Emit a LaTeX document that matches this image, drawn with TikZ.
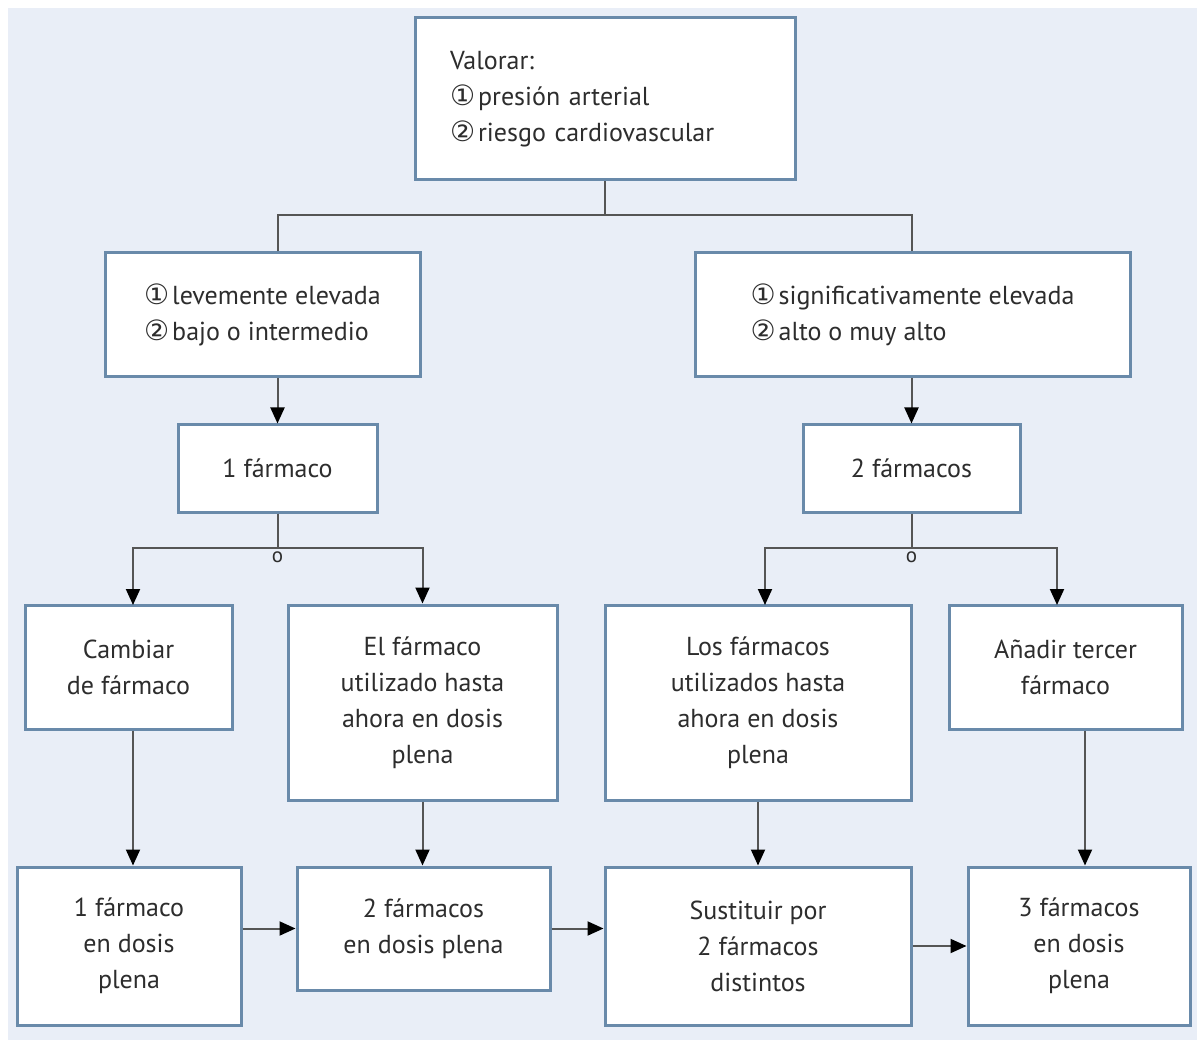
\documentclass[tikz,border=0pt]{standalone}
\usepackage{fontspec}
\setmainfont{PT Sans}
\newfontfamily\circfont{DejaVu Sans}
\usepackage{tikz}
\usetikzlibrary{arrows.meta,positioning}

\definecolor{bgblue}{RGB}{233,238,247}
\definecolor{boxblue}{RGB}{105,138,170}
\definecolor{linegray}{RGB}{85,85,85}
\definecolor{txtgray}{RGB}{45,45,45}
\newcommand{\cuno}{{\circfont\fontsize{28}{36}\selectfont ①}\hspace{3pt}}
\newcommand{\cdos}{{\circfont\fontsize{28}{36}\selectfont ②}\hspace{3pt}}

\tikzset{
	box/.style={draw=boxblue, line width=3pt, fill=white, align=center, text=txtgray, inner sep=0pt,
		font=\fontsize{26}{36}\selectfont},
	line/.style={draw=linegray, line width=2pt},
	arr/.style={line, -{Triangle[length=16pt,width=14pt,color=black]}},
	olabel/.style={text=txtgray, inner sep=1pt, font=\fontsize{21}{24}\selectfont},
}

\begin{document}
\begin{tikzpicture}[x=1pt, y=-1pt]
	\useasboundingbox (0,0) rectangle (1197,1064);
	\fill[bgblue] (8,8) rectangle (1197,1040);
	% top and second level
	\node[box, align=left, text width=310pt, inner xsep=35pt, minimum height=162pt] (valorar) at (605,99)
		{Valorar:\\\cuno presión arterial\\\cdos riesgo cardiovascular};
	\node[box, align=left, minimum width=315pt, minimum height=124pt] (leve) at (262.5,315)
		{\cuno levemente elevada\\\cdos bajo o intermedio};
	\node[box, align=left, minimum width=435pt, minimum height=124pt] (signif) at (912.5,315)
		{\cuno significativamente elevada\\\cdos alto o muy alto};
	\node[box, minimum width=199pt, minimum height=87pt] (uno) at (277.5,468.5) {1 fármaco};
	\node[box, minimum width=217pt, minimum height=87pt] (dos) at (911.5,468.5) {2 fármacos};
	% third row
	\node[box, minimum width=207pt, minimum height=124pt] (cambiar) at (128.5,667) {Cambiar\\de fármaco};
	\node[box, minimum width=269pt, minimum height=195pt] (elfarm) at (422.5,702.5)
		{El fármaco\\utilizado hasta\\ahora en dosis\\plena};
	\node[box, minimum width=306pt, minimum height=195pt] (losfarm) at (758,702.5)
		{Los fármacos\\utilizados hasta\\ahora en dosis\\plena};
	\node[box, minimum width=233pt, minimum height=124pt] (anadir) at (1065.5,667) {Añadir tercer\\fármaco};
	% bottom row
	\node[box, minimum width=224pt, minimum height=158pt] (unodosis) at (129,946) {1 fármaco\\en dosis\\plena};
	\node[box, minimum width=253pt, minimum height=123pt] (dosdosis) at (423.5,928.5) {2 fármacos\\en dosis plena};
	\node[box, minimum width=306pt, minimum height=158pt] (sustituir) at (758,946) {Sustituir por\\2 fármacos\\distintos};
	\node[box, minimum width=222pt, minimum height=158pt] (tresdosis) at (1079,946) {3 fármacos\\en dosis\\plena};
	% connectors
	\coordinate (split) at (605,215);
	\draw[line] (valorar.south) -- (split);
	\draw[line] (leve.north -| uno) |- (split) -| (signif.north -| dos);
	\draw[arr] (leve.south -| uno) -- (uno);
	\draw[arr] (signif.south -| dos) -- (dos);
	\coordinate (fa) at (277.5,548);
	\coordinate (fb) at (911.5,548);
	\draw[line] (uno) -- (fa);
	\draw[line] (dos) -- (fb);
	\draw[arr] (fa) -| (133,605);
	\draw[arr] (fa) -| (elfarm);
	\draw[arr] (fb) -| (765,605);
	\draw[arr] (fb) -| (1057,605);
	\node[olabel, below=3pt] (oa) at (fa) {o};
	\node[olabel, below=3pt] (ob) at (fb) {o};
	\draw[arr] (cambiar.south -| 133,0) -- (unodosis.north -| 133,0);
	\draw[arr] (elfarm.south) -- (elfarm.south |- dosdosis.north);
	\draw[arr] (losfarm.south) -- (sustituir);
	\draw[arr] (anadir.south -| 1085,0) -- (tresdosis.north -| 1085,0);
	\draw[arr] (unodosis.east |- dosdosis) -- (dosdosis);
	\draw[arr] (dosdosis) -- (dosdosis -| sustituir.west);
	\draw[arr] (sustituir) -- (tresdosis);
\end{tikzpicture}
\end{document}
